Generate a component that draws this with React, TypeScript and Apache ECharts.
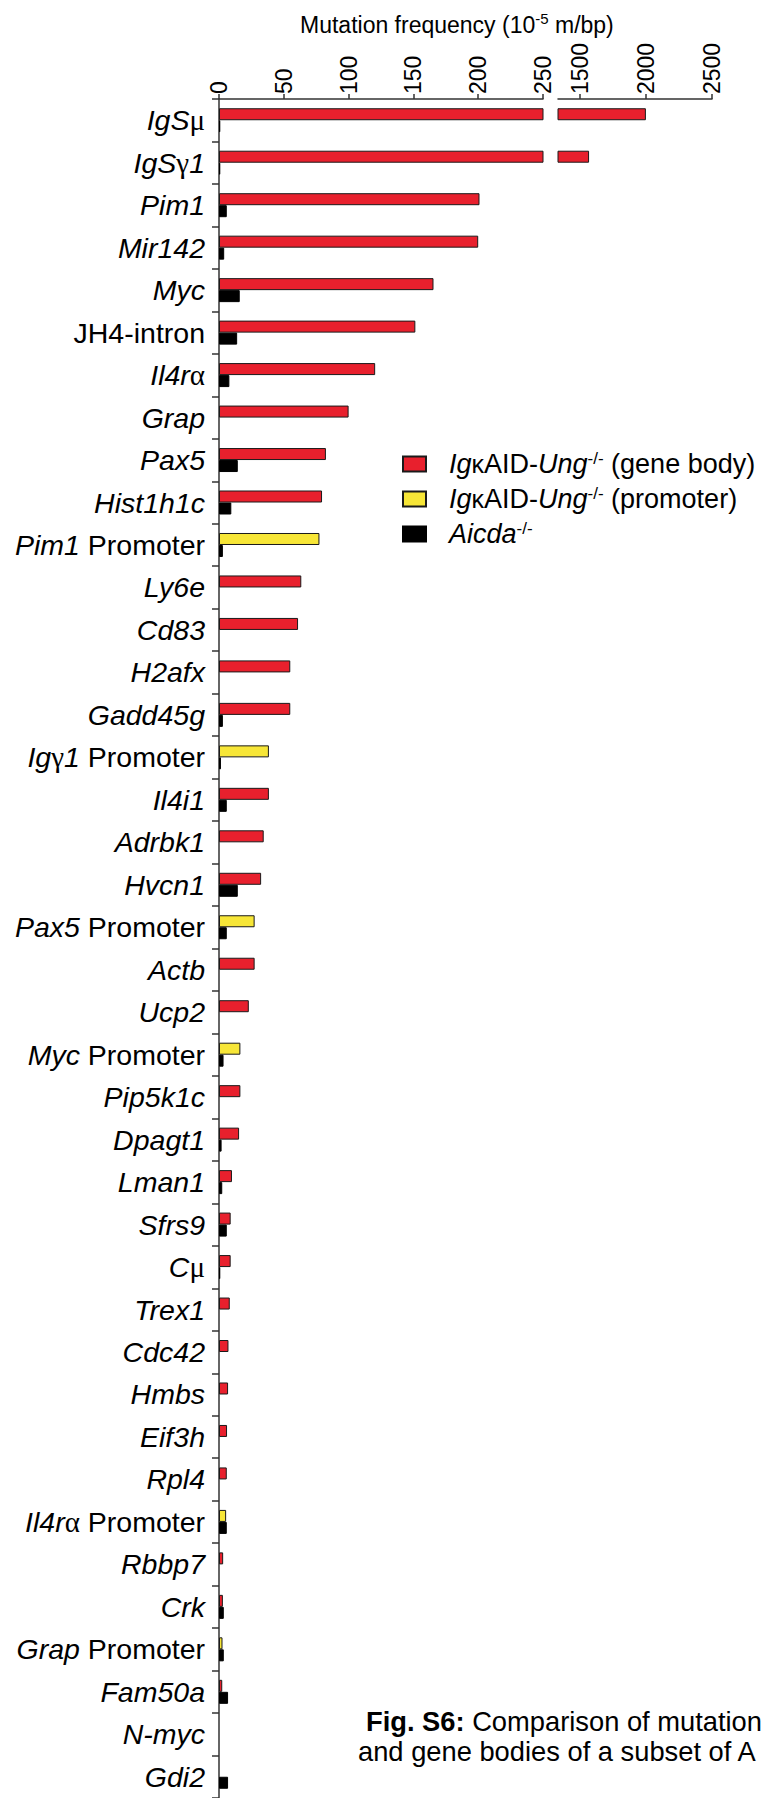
import { useEffect, useRef } from 'react';
import * as echarts from 'echarts';

const categories = [
  'IgSμ', 'IgSγ1', 'Pim1', 'Mir142', 'Myc', 'JH4-intron', 'Il4rα', 'Grap', 'Pax5', 'Hist1h1c',
  'Pim1 Promoter', 'Ly6e', 'Cd83', 'H2afx', 'Gadd45g', 'Igγ1 Promoter', 'Il4i1', 'Adrbk1', 'Hvcn1', 'Pax5 Promoter',
  'Actb', 'Ucp2', 'Myc Promoter', 'Pip5k1c', 'Dpagt1', 'Lman1', 'Sfrs9', 'Cμ', 'Trex1', 'Cdc42',
  'Hmbs', 'Eif3h', 'Rpl4', 'Il4rα Promoter', 'Rbbp7', 'Crk', 'Grap Promoter', 'Fam50a', 'N-myc', 'Gdi2',
];

// IgκAID-Ung-/- (gene body)
const geneBody = [
  2000, 1570, 201, 200, 165.5, 151.5, 120.5, 100, 82.5, 79.5,
  null, 63.5, 61, 55, 55, null, 38.5, 34.5, 32.5, null,
  27.5, 23, null, 16.5, 15.5, 10, 9, 9, 8.3, 7.3,
  7, 6.2, 6, null, 3.2, 3, null, 2.5, null, null,
];

// IgκAID-Ung-/- (promoter)
const promoter = [
  null, null, null, null, null, null, null, null, null, null,
  77.5, null, null, null, null, 38.5, null, null, null, 27.5,
  null, null, 16.5, null, null, null, null, null, null, null,
  null, null, null, 5.5, null, null, 2.7, null, null, null,
];

// Aicda-/-
const aicda = [
  1, 1, 6, 4, 16, 14, 8, null, 14.5, 9.5,
  3, null, null, null, 3, 1.5, 6, null, 14.5, 6,
  null, null, 3.5, null, 2, 2.5, 6, 1, null, null,
  null, null, null, 6, null, 3.7, 3.7, 7, null, 7,
];

const lowTicks = [0, 50, 100, 150, 200, 250];
const highTicks = [1500, 2000, 2500];
const highMin = 1335;

const NAME_BODY = 'IgκAID-Ung-/- (gene body)';
const NAME_PROM = 'IgκAID-Ung-/- (promoter)';
const NAME_AICDA = 'Aicda-/-';

const FONT = 'Liberation Sans';
const RED = '#E8202D';
const YELLOW = '#F7E637';
const BORDER = '#1a1a1a';

function richLabel(name: string): string {
  if (name === 'JH4-intron') return '{n|' + name + '}';
  let gene = name;
  let suffix = '';
  if (name.endsWith(' Promoter')) {
    gene = name.slice(0, -' Promoter'.length);
    suffix = '{n| Promoter}';
  }
  const parts = gene
    .split(/([μγα])/)
    .filter((p) => p.length > 0)
    .map((p) => (/[μγα]/.test(p) ? '{g|' + p + '}' : '{i|' + p + '}'));
  return parts.join('') + suffix;
}

const legendRich: Record<string, string> = {
  [NAME_BODY]: '{sp| }{i|Ig}{g|κ}{n|AID-}{i|Ung}{s|-/-}{n| (gene body)}',
  [NAME_PROM]: '{sp| }{i|Ig}{g|κ}{n|AID-}{i|Ung}{s|-/-}{n| (promoter)}',
  [NAME_AICDA]: '{sp| }{i|Aicda}{s|-/-}',
};

export default function App() {
  const ref = useRef<HTMLDivElement>(null);

  useEffect(() => {
    if (!ref.current) return;
    const chart = echarts.init(ref.current, null, { renderer: 'svg' });
    const lowMax = lowTicks[lowTicks.length - 1];
    const bandH = 42.56;
    const gridTop = 99;
    const gridH = bandH * categories.length;

    const axisLineStyle = { color: '#333', width: 1.5 };
    const catRich = {
      i: { fontFamily: FONT, fontStyle: 'italic', fontSize: 28.5, color: '#000' },
      n: { fontFamily: FONT, fontSize: 28.5, color: '#000' },
      g: { fontFamily: 'Liberation Serif', fontSize: 29, color: '#000' },
    };
    const legRich = {
      sp: { width: 18 },
      i: { fontFamily: FONT, fontStyle: 'italic', fontSize: 27, color: '#000', lineHeight: 28 },
      n: { fontFamily: FONT, fontSize: 27, color: '#000', lineHeight: 28 },
      g: { fontFamily: FONT, fontSize: 25, color: '#000', lineHeight: 28 },
      s: { fontFamily: FONT, fontSize: 17, color: '#000', lineHeight: 16, verticalAlign: 'top' },
    };

    const option: any = {
      animation: false,
      textStyle: { fontFamily: FONT },
      title: {
        text: '{a|Mutation frequency (10}{s|-5}{a| m/bp)}',
        left: 295,
        top: 6,
        textStyle: {
          fontWeight: 'normal',
          rich: {
            a: { fontFamily: FONT, fontWeight: 'normal', fontSize: 23, color: '#000', lineHeight: 28 },
            s: { fontFamily: FONT, fontWeight: 'normal', fontSize: 15, color: '#000', lineHeight: 15, verticalAlign: 'top' },
          },
        },
      },
      legend: {
        data: [NAME_BODY, NAME_PROM, NAME_AICDA],
        orient: 'vertical',
        left: 402,
        top: 450,
        padding: 0,
        itemWidth: 23,
        itemHeight: 15,
        itemGap: 7,
        icon: 'rect',
        formatter: (name: string) => legendRich[name],
        textStyle: { fontSize: 27, lineHeight: 28, rich: legRich },
      },
      grid: [
        { left: 219, top: gridTop, width: 324, height: gridH },
        { left: 558, top: gridTop, width: 154, height: gridH },
      ],
      xAxis: [
        {
          gridIndex: 0,
          type: 'value',
          position: 'top',
          min: 0,
          max: lowMax,
          interval: 50,
          splitLine: { show: false },
          axisLine: { show: true, lineStyle: axisLineStyle },
          axisTick: { show: true, length: 5, lineStyle: axisLineStyle },
          axisLabel: {
            rotate: -90,
            margin: 5,
            fontSize: 23,
            color: '#000',
            fontFamily: FONT,
            formatter: (v: number) => String(v),
          },
        },
        {
          gridIndex: 1,
          type: 'value',
          position: 'top',
          min: highMin,
          max: highTicks[highTicks.length - 1],
          splitLine: { show: false },
          axisLine: { show: true, lineStyle: axisLineStyle },
          axisTick: { show: true, length: 5, lineStyle: axisLineStyle, customValues: highTicks },
          axisLabel: {
            rotate: -90,
            margin: 5,
            fontSize: 23,
            color: '#000',
            fontFamily: FONT,
            customValues: highTicks,
            formatter: (v: number) => String(v),
          },
        },
      ],
      yAxis: [
        {
          gridIndex: 0,
          type: 'category',
          inverse: true,
          data: categories,
          axisLine: { show: true, lineStyle: axisLineStyle },
          axisTick: { show: true, length: 7, lineStyle: axisLineStyle },
          axisLabel: {
            margin: 14,
            interval: 0,
            formatter: (v: string) => richLabel(v),
            rich: catRich,
          },
        },
        {
          gridIndex: 1,
          type: 'category',
          inverse: true,
          data: categories,
          show: false,
        },
      ],
      series: [
        {
          name: NAME_BODY,
          type: 'bar',
          xAxisIndex: 0,
          yAxisIndex: 0,
          stack: 'top',
          barWidth: 12,
          barGap: '0%',
          clip: true,
          data: geneBody.map((v) => (v == null ? '-' : v)),
          itemStyle: { color: RED, borderColor: BORDER, borderWidth: 1 },
        },
        {
          name: NAME_PROM,
          type: 'bar',
          xAxisIndex: 0,
          yAxisIndex: 0,
          stack: 'top',
          barWidth: 12,
          barGap: '0%',
          clip: true,
          data: promoter.map((v) => (v == null ? '-' : v)),
          itemStyle: { color: YELLOW, borderColor: BORDER, borderWidth: 1 },
        },
        {
          name: NAME_AICDA,
          type: 'bar',
          xAxisIndex: 0,
          yAxisIndex: 0,
          barWidth: 12,
          barGap: '0%',
          clip: true,
          data: aicda.map((v) => (v == null ? '-' : v)),
          itemStyle: { color: '#000', borderColor: '#000', borderWidth: 1 },
        },
        {
          name: NAME_BODY,
          type: 'bar',
          xAxisIndex: 1,
          yAxisIndex: 1,
          barWidth: 12,
          barGap: '0%',
          clip: true,
          data: geneBody.map((v) => (v != null && v > lowMax ? v : '-')),
          itemStyle: { color: RED, borderColor: BORDER, borderWidth: 1 },
        },
        {
          name: NAME_AICDA,
          type: 'bar',
          xAxisIndex: 1,
          yAxisIndex: 1,
          barWidth: 12,
          barGap: '0%',
          clip: true,
          data: aicda.map((v) => (v != null && v > lowMax ? v : '-')),
          itemStyle: { color: '#000', borderColor: '#000', borderWidth: 1 },
        },
      ],
      graphic: [
        {
          type: 'text',
          left: 366,
          top: 1708,
          style: {
            text: '{b|Fig. S6:}{r| Comparison of mutation}',
            rich: {
              b: { fontFamily: FONT, fontWeight: 'bold', fontSize: 27.3, fill: '#000', lineHeight: 29 },
              r: { fontFamily: FONT, fontSize: 27.3, fill: '#000', lineHeight: 29 },
            },
          },
        },
        {
          type: 'text',
          left: 358,
          top: 1737,
          style: {
            text: 'and gene bodies of a subset of A',
            fontFamily: FONT,
            fontSize: 27.3,
            fill: '#000',
            lineHeight: 29,
          },
        },
      ],
    };

    chart.setOption(option);
    return () => chart.dispose();
  }, []);

  return (
    <div
      ref={ref}
      style={{ position: 'absolute', left: 0, top: 0, width: 765, height: 1798 }}
    />
  );
}
